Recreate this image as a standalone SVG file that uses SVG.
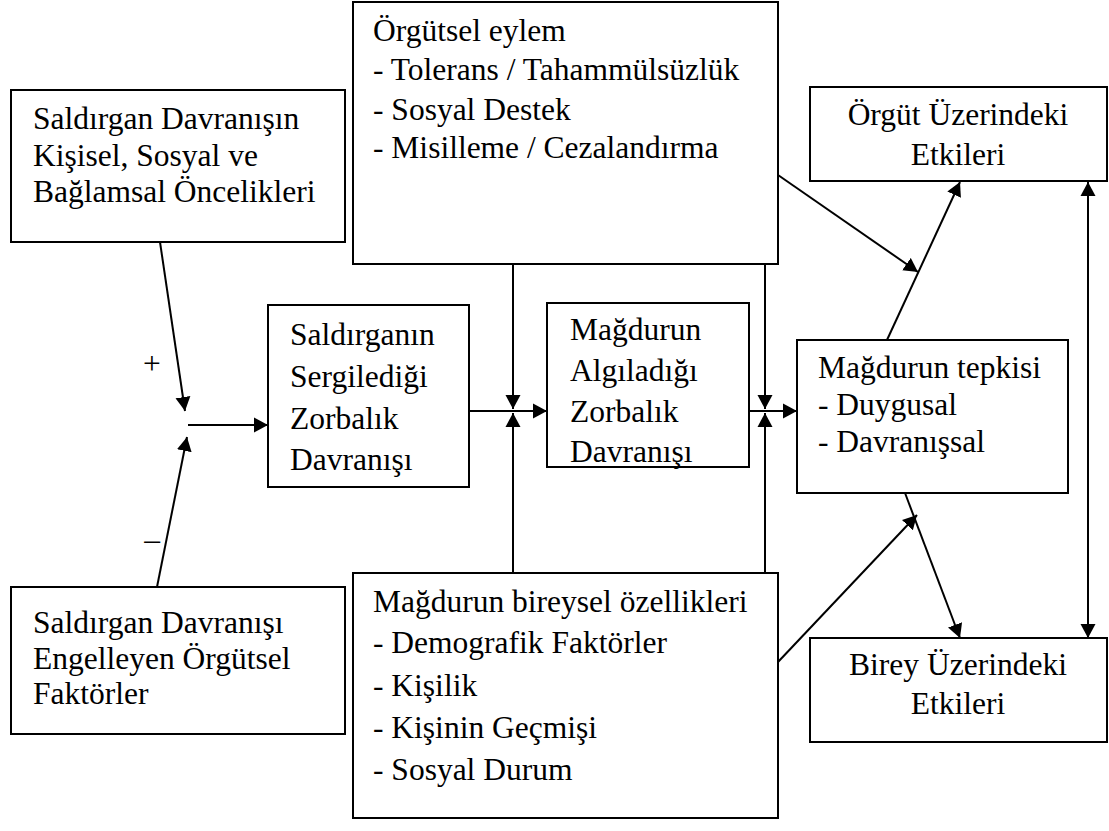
<svg xmlns="http://www.w3.org/2000/svg" width="1109" height="831" viewBox="0 0 1109 831">
<style>
.box{fill:#fff;stroke:#000;stroke-width:2}
.c{text-anchor:middle}
.ln{stroke:#000;stroke-width:2;fill:none}
</style>
<defs>
<marker id="ah" markerUnits="userSpaceOnUse" markerWidth="15" markerHeight="16" refX="14" refY="7.5" orient="auto-start-reverse" viewBox="0 0 15 15">
<path d="M0,0 L14,7.5 L0,15 z" fill="#000"/>
</marker>
</defs>
<rect width="1109" height="831" fill="#fff"/>
<g font-family="Liberation Serif, DejaVu Serif, Times New Roman, serif" font-size="31.5" fill="#000">
<g id="connectors">
<line class="ln" x1="160" y1="242" x2="185" y2="411" marker-end="url(#ah)"/>
<line class="ln" x1="157" y1="587" x2="187" y2="437" marker-end="url(#ah)"/>
<line class="ln" x1="188" y1="425" x2="268" y2="425" marker-end="url(#ah)"/>
<line class="ln" x1="469" y1="411" x2="547" y2="411" marker-end="url(#ah)"/>
<line class="ln" x1="513" y1="264" x2="513" y2="409" marker-end="url(#ah)"/>
<line class="ln" x1="513" y1="573" x2="513" y2="413" marker-end="url(#ah)"/>
<line class="ln" x1="749" y1="411" x2="797" y2="411" marker-end="url(#ah)"/>
<line class="ln" x1="765" y1="264" x2="765" y2="409" marker-end="url(#ah)"/>
<line class="ln" x1="765" y1="573" x2="765" y2="413" marker-end="url(#ah)"/>
<line class="ln" x1="778" y1="175" x2="918" y2="272" marker-end="url(#ah)"/>
<line class="ln" x1="778" y1="662" x2="917" y2="515" marker-end="url(#ah)"/>
<line class="ln" x1="887" y1="340" x2="960" y2="182" marker-end="url(#ah)"/>
<line class="ln" x1="905" y1="493" x2="960" y2="638" marker-end="url(#ah)"/>
<line class="ln" x1="1088" y1="182" x2="1088" y2="638" marker-start="url(#ah)" marker-end="url(#ah)"/>
<text x="152" y="374" class="c">+</text>
<text x="152" y="550" class="c">–</text>
</g>
<g id="n1">
<rect class="box" x="11" y="90" width="334" height="152"/>
<text x="33" y="129">Saldırgan Davranışın</text>
<text x="33" y="166">Kişisel, Sosyal ve</text>
<text x="33" y="202">Bağlamsal Öncelikleri</text>
</g>
<g id="n2">
<rect class="box" x="11" y="587" width="334" height="147"/>
<text x="33" y="633">Saldırgan Davranışı</text>
<text x="33" y="669">Engelleyen Örgütsel</text>
<text x="33" y="704">Faktörler</text>
</g>
<g id="n3">
<rect class="box" x="353" y="2" width="425" height="262"/>
<text x="373" y="41">Örgütsel eylem</text>
<text x="373" y="80">- Tolerans / Tahammülsüzlük</text>
<text x="373" y="120">- Sosyal Destek</text>
<text x="373" y="158">- Misilleme / Cezalandırma</text>
</g>
<g id="n4">
<rect class="box" x="353" y="573" width="425" height="245"/>
<text x="373" y="612">Mağdurun bireysel özellikleri</text>
<text x="373" y="653">- Demografik Faktörler</text>
<text x="373" y="696">- Kişilik</text>
<text x="373" y="738">- Kişinin Geçmişi</text>
<text x="373" y="780">- Sosyal Durum</text>
</g>
<g id="n5">
<rect class="box" x="268" y="305" width="201" height="182"/>
<text x="290" y="345">Saldırganın</text>
<text x="290" y="387">Sergilediği</text>
<text x="290" y="429">Zorbalık</text>
<text x="290" y="470">Davranışı</text>
</g>
<g id="n6">
<rect class="box" x="547" y="303" width="202" height="164"/>
<text x="570" y="340">Mağdurun</text>
<text x="570" y="381">Algıladığı</text>
<text x="570" y="422">Zorbalık</text>
<text x="570" y="462">Davranışı</text>
</g>
<g id="n7">
<rect class="box" x="797" y="340" width="271" height="153"/>
<text x="818" y="378">Mağdurun tepkisi</text>
<text x="818" y="415">- Duygusal</text>
<text x="818" y="452">- Davranışsal</text>
</g>
<g id="n8">
<rect class="box" x="810" y="87" width="297" height="94"/>
<text x="958" y="125" class="c">Örgüt Üzerindeki</text>
<text x="958" y="165" class="c">Etkileri</text>
</g>
<g id="n9">
<rect class="box" x="810" y="638" width="297" height="104"/>
<text x="958" y="675" class="c">Birey Üzerindeki</text>
<text x="958" y="714" class="c">Etkileri</text>
</g>
</g>
</svg>
